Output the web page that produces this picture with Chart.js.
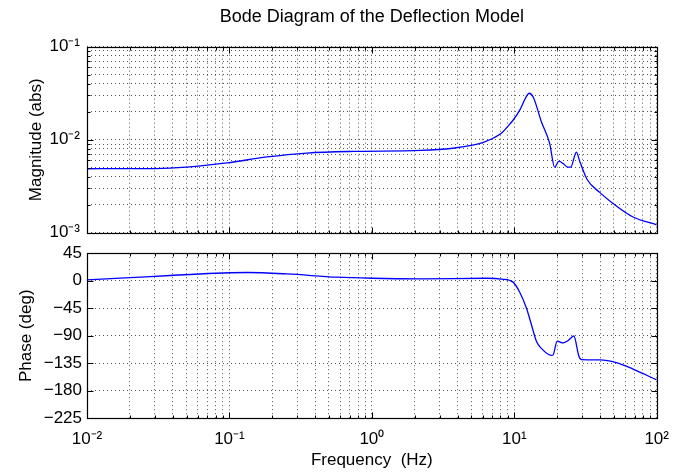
<!DOCTYPE html>
<html><head><meta charset="utf-8">
<script src="https://cdn.jsdelivr.net/npm/chart.js@4.4.1/dist/chart.umd.min.js"></script>
<style>
html,body{margin:0;padding:0;background:#fff;width:683px;height:473px;overflow:hidden}
#c1{position:absolute;left:0;top:0}
#c2{position:absolute;left:0;top:238px}
</style></head><body>
<canvas id="c1" width="683" height="250"></canvas>
<canvas id="c2" width="683" height="235"></canvas>
<script>
const chartTitle = 'Bode Diagram of the Deflection Model';
const freqMag   = [0.01, 0.02, 0.03, 0.05, 0.096, 0.183, 0.35, 0.745, 2.2, 3.7, 5.2, 6.2, 7.2, 8.2, 9.0, 9.8, 10.9, 12.2, 12.7, 13.6, 15.5, 17.7, 19.2, 20.6, 22.0, 23.8, 24.9, 27.3, 28.8, 32.4, 39.8, 49.3, 68.2, 100];
const magValues = [0.00488, 0.00489, 0.0049, 0.00508, 0.00564, 0.00653, 0.0072, 0.0075, 0.00768, 0.0081, 0.0088, 0.0095, 0.0105, 0.0119, 0.0139, 0.0162, 0.0207, 0.0294, 0.0316, 0.0286, 0.0156, 0.0092, 0.00508, 0.00588, 0.00555, 0.00508, 0.00508, 0.00738, 0.00588, 0.00376, 0.00272, 0.00207, 0.00148, 0.00122];
const freqPhase   = [0.01, 0.02, 0.0384, 0.133, 0.253, 0.568, 1.0, 2.19, 6.4, 8.2, 9.8, 10.9, 12.2, 13.2, 14.3, 15.5, 18.2, 18.7, 20.0, 22.0, 23.9, 26.2, 28.4, 29.6, 39.8, 52.1, 68.2, 100];
const phaseValues = [1.5, 5.0, 8.5, 13.4, 11.1, 5.8, 4.0, 3.1, 4.0, 2.5, -2.3, -18.4, -45.3, -72, -98.9, -110.7, -122, -121.5, -98.9, -101.7, -97.8, -90.4, -123, -129, -129.5, -133.9, -144.5, -162.2];
const xTickValues = [0.01, 0.1, 1, 10, 100];
const xTickLabels = ['10\u207B\u00B2', '10\u207B\u00B9', '10\u2070', '10\u00B9', '10\u00B2'];
const magTickValues = [0.001, 0.01, 0.1];
const magTickLabels = ['10\u207B\u00B3', '10\u207B\u00B2', '10\u207B\u00B9'];
const phaseTickValues = [45, 0, -45, -90, -135, -180, -225];
const phaseTickLabels = ['45', '0', '\u221245', '\u221290', '\u2212135', '\u2212180', '\u2212225'];

Chart.defaults.font.family = '"Liberation Sans", Arial, Helvetica, sans-serif';
Chart.defaults.font.size = 17;
Chart.defaults.color = '#000';

function decadeTicks(min, max) {
  const out = [];
  for (let e = Math.round(Math.log10(min)); e < Math.round(Math.log10(max)); e++) {
    for (let m = 1; m <= 9; m++) out.push(+(m * Math.pow(10, e)).toPrecision(6));
  }
  out.push(max);
  return out.map(v => ({value: v}));
}
function labelFor(vals, labs) {
  return v => {
    const i = vals.findIndex(t => Math.abs(t - v) <= Math.abs(t) * 1e-6 + 1e-12);
    return i >= 0 ? labs[i] : '';
  };
}
function isMajorLog(v) {
  const l = Math.log10(v);
  return Math.abs(l - Math.round(l)) < 1e-6;
}
const gridOpts = {color: '#555', lineWidth: 1, drawTicks: false};
const borderOpts = {display: false, dash: [1, 3]};

const boxPlugin = {
  id: 'box',
  afterDraw(chart) {
    const {ctx, chartArea: a, scales} = chart;
    const xs = scales.x, ys = scales.y;
    const L = Math.round(a.left) + 0.5, R = Math.round(a.right) + 0.5;
    const T = Math.round(a.top) + 0.5, B = Math.round(a.bottom) + 0.5;
    ctx.save();
    ctx.strokeStyle = '#000';
    ctx.lineWidth = 1;
    ctx.beginPath();
    xs.ticks.forEach(t => {
      const px = Math.round(xs.getPixelForValue(t.value)) + 0.5;
      const len = isMajorLog(t.value) ? 6 : 3;
      ctx.moveTo(px, B); ctx.lineTo(px, B - len);
      ctx.moveTo(px, T); ctx.lineTo(px, T + len);
    });
    ys.ticks.forEach(t => {
      const py = Math.round(ys.getPixelForValue(t.value)) + 0.5;
      const len = (ys.type === 'logarithmic' && !isMajorLog(t.value)) ? 3 : 6;
      ctx.moveTo(L, py); ctx.lineTo(L + len, py);
      ctx.moveTo(R, py); ctx.lineTo(R - len, py);
    });
    ctx.stroke();
    ctx.lineWidth = 1.2;
    ctx.strokeRect(L, T, R - L, B - T);
    ctx.restore();
  }
};

const xScaleBase = {
  type: 'logarithmic', min: 0.01, max: 100,
  grid: gridOpts, border: borderOpts,
  afterBuildTicks: s => { s.ticks = decadeTicks(0.01, 100); }
};

new Chart(document.getElementById('c1'), {
  type: 'line',
  data: {datasets: [{
    data: freqMag.map((f, i) => ({x: f, y: magValues[i]})),
    borderColor: '#0000ff', borderWidth: 1.3, pointRadius: 0, fill: false,
    cubicInterpolationMode: 'monotone'
  }]},
  options: {
    responsive: false, animation: false,
    layout: {padding: {left: 0, right: 26.3, top: 0, bottom: 14}},
    plugins: {
      legend: {display: false}, tooltip: {enabled: false},
      title: {display: true, text: chartTitle, fullSize: false,
        font: {size: 18, weight: 'normal'}, padding: {top: 6.2, bottom: 18.9}}
    },
    scales: {
      x: Object.assign({}, xScaleBase, {
        ticks: {display: false, autoSkip: false},
        afterFit: s => { s.height = 0; }
      }),
      y: {
        type: 'logarithmic', min: 0.001, max: 0.1,
        grid: gridOpts, border: borderOpts,
        afterBuildTicks: s => { s.ticks = decadeTicks(0.001, 0.1); },
        ticks: {autoSkip: false, padding: 7, callback: labelFor(magTickValues, magTickLabels)},
        title: {display: true, text: 'Magnitude (abs)', padding: {top: 26.5, bottom: 0}},
        afterFit: s => { s.width = 87; }
      }
    }
  },
  plugins: [boxPlugin]
});

new Chart(document.getElementById('c2'), {
  type: 'line',
  data: {datasets: [{
    data: freqPhase.map((f, i) => ({x: f, y: phaseValues[i]})),
    borderColor: '#0000ff', borderWidth: 1.3, pointRadius: 0, fill: false,
    cubicInterpolationMode: 'monotone'
  }]},
  options: {
    responsive: false, animation: false,
    layout: {padding: {left: 0, right: 26.3, top: 12.7, bottom: 0}},
    plugins: {legend: {display: false}, tooltip: {enabled: false}},
    scales: {
      x: Object.assign({}, xScaleBase, {
        ticks: {autoSkip: false, maxRotation: 0, padding: 11, callback: labelFor(xTickValues, xTickLabels)},
        title: {display: true, text: 'Frequency  (Hz)', padding: {top: 0, bottom: 2}},
        afterFit: s => { s.height = 54.7; }
      }),
      y: {
        type: 'linear', min: -225, max: 45,
        grid: gridOpts, border: borderOpts,
        afterBuildTicks: s => { s.ticks = phaseTickValues.map(v => ({value: v})); },
        ticks: {autoSkip: false, padding: 5, callback: labelFor(phaseTickValues, phaseTickLabels)},
        title: {display: true, text: 'Phase (deg)', padding: {top: 16, bottom: 0}},
        afterFit: s => { s.width = 87; }
      }
    }
  },
  plugins: [boxPlugin]
});
</script>
</body></html>
